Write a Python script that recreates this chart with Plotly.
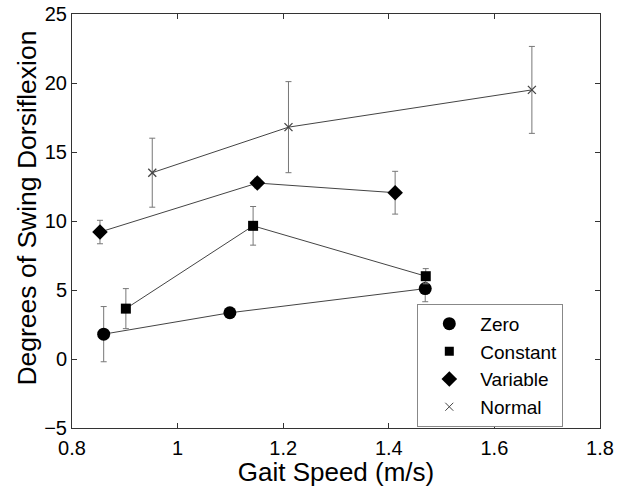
import plotly.graph_objects as go

series_names = ["Zero", "Constant", "Variable", "Normal"]
zero_x = [0.860, 1.099, 1.469]
zero_y = [1.8, 3.35, 5.1]
zero_err = [2.0, 0.25, 0.95]
const_x = [0.902, 1.143, 1.470]
const_y = [3.65, 9.65, 6.0]
const_err = [1.45, 1.4, 0.55]
var_x = [0.853, 1.151, 1.412]
var_y = [9.2, 12.75, 12.05]
var_err = [0.85, 0.35, 1.55]
norm_x = [0.952, 1.210, 1.671]
norm_y = [13.5, 16.8, 19.5]
norm_err = [2.5, 3.3, 3.15]

xticks = [0.8, 1.0, 1.2, 1.4, 1.6, 1.8]
xtick_labels = ["0.8", "1", "1.2", "1.4", "1.6", "1.8"]
yticks = [-5, 0, 5, 10, 15, 20, 25]
ytick_labels = ["\u22125", "0", "5", "10", "15", "20", "25"]
x_title = "Gait Speed (m/s)"
y_title = "Degrees of Swing Dorsiflexion"

FONT = "Liberation Sans, Arial, Helvetica, sans-serif"
LINE_COL = "#444444"
ERR_COL = "#777777"

specs = [
    (zero_x, zero_y, zero_err, "circle", 13, "black"),
    (const_x, const_y, const_err, "square", 10, "black"),
    (var_x, var_y, var_err, "diamond", 12, "black"),
    (norm_x, norm_y, norm_err, "x-thin", 8, "#444444"),
]

fig = go.Figure()
for name, (xs, ys, es, sym, sz, col) in zip(series_names, specs):
    fig.add_trace(go.Scatter(
        x=xs, y=ys, mode="lines+markers", showlegend=False,
        line=dict(color=LINE_COL, width=1),
        marker=dict(symbol=sym, size=sz, color=col,
                    line=dict(color=col, width=1.3 if sym == "x-thin" else 0)),
        error_y=dict(type="data", array=es, visible=True, color=ERR_COL,
                     thickness=1, width=3),
    ))
for name, (xs, ys, es, sym, sz, col) in zip(series_names, specs):
    fig.add_trace(go.Scatter(
        x=[None], y=[None], mode="markers", name=name,
        marker=dict(symbol=sym, size=sz if sym != "square" else 9, color=col,
                    line=dict(color=col, width=1 if sym == "x-thin" else 0)),
    ))

fig.update_layout(
    width=624, height=487,
    margin=dict(l=72, r=24, t=14, b=59),
    paper_bgcolor="white", plot_bgcolor="white",
    font=dict(family=FONT, size=20, color="black"),
    legend=dict(x=0.654, y=0.300, xanchor="left", yanchor="top",
                bgcolor="white", bordercolor="#888888", borderwidth=1,
                font=dict(size=19), tracegroupgap=0, itemwidth=52),
    annotations=[dict(
        text=y_title, xref="paper", yref="paper", x=0, y=0.53,
        xanchor="center", yanchor="middle", xshift=-45, textangle=-90,
        showarrow=False, font=dict(size=26.5),
    )],
)
fig.update_xaxes(
    range=[0.8, 1.8], tickvals=xticks, ticktext=xtick_labels,
    showgrid=False, zeroline=False, showline=True, linecolor="#333333",
    linewidth=1, mirror="allticks", ticks="inside", ticklen=5,
    tickcolor="#333333", tickfont=dict(size=20), ticklabelstandoff=2,
    automargin=False,
    title=dict(text=x_title, font=dict(size=26), standoff=0),
)
fig.update_yaxes(
    range=[-5, 25], tickvals=yticks, ticktext=ytick_labels,
    showgrid=False, zeroline=False, showline=True, linecolor="#333333",
    linewidth=1, mirror="allticks", ticks="inside", ticklen=5,
    tickcolor="#333333", tickfont=dict(size=20), automargin=False,
)

fig.write_html("out.html", config={"displayModeBar": False},
               post_script="document.body.style.margin='0px';")
